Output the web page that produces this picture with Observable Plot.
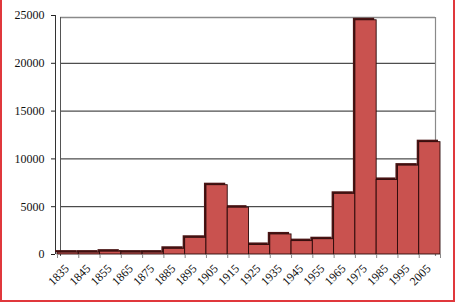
<!DOCTYPE html>
<html><head><meta charset="utf-8">
<script src="https://cdn.jsdelivr.net/npm/d3@7"></script>
<script src="https://cdn.jsdelivr.net/npm/@observablehq/plot@0.6"></script>
<style>
html,body{margin:0;padding:0;background:#fff;}
#wrap{position:relative;width:455px;height:302px;overflow:hidden;}
#frame{position:absolute;left:0;top:-4px;height:306px;width:455px;border:2px solid #e0383c;pointer-events:none;box-sizing:border-box;}
svg text{font-family:"Liberation Serif","Times New Roman",serif !important;}
</style>
</head><body>
<div id="wrap"><div id="frame"></div></div>
<script>
const years = [1835,1845,1855,1865,1875,1885,1895,1905,1915,1925,1935,1945,1955,1965,1975,1985,1995,2005];
const counts = [200,200,300,200,200,600,1750,7250,4900,1000,2100,1400,1600,6350,24500,7800,9300,11750];
const yTicks = [0,5000,10000,15000,20000,25000];
const binEdges = [1830,1840,1850,1860,1870,1880,1890,1900,1910,1920,1930,1940,1950,1960,1970,1980,1990,2000,2010];

const data = years.map((y,i) => ({year: y, label: String(y), x1: y - 5, x2: y + 5, count: counts[i]}));
const font = "'Liberation Serif', 'Times New Roman', serif";

const chart = Plot.plot({
  width: 455,
  height: 302,
  marginLeft: 57,
  marginRight: 15,
  marginTop: 15,
  marginBottom: 48,
  style: {fontFamily: font, fontSize: "12px", color: "#111", background: "transparent", overflow: "visible"},
  x: {domain: [1830, 2010], axis: null},
  y: {domain: [0, 25000], axis: null},
  marks: [
    Plot.ruleY(yTicks.slice(1, -1), {x1: 1830, x2: 2010, stroke: "#222", strokeWidth: 1, insetLeft: 3, insetRight: 5}),
    Plot.ruleY([25000], {x1: 1830, x2: 2010, stroke: "#8a8a8a", strokeWidth: 1.6, insetLeft: 3, insetRight: 5, dy: 2}),
    Plot.ruleX([2010], {y1: 0, y2: 25000, stroke: "#8a8a8a", strokeWidth: 1.2, dx: -5, dy: 2}),
    Plot.ruleX([1830], {y1: 0, y2: 25000, stroke: "#555", strokeWidth: 1, dx: 3, dy: 2}),
    Plot.ruleX([1830], {y1: 0, y2: 25000, stroke: "#333", strokeWidth: 1, dx: -2}),
    Plot.rectY(data, {x1: "x1", x2: "x2", y: "count", fill: "#4a1414", dx: -2, dy: -2}),
    Plot.rectY(data, {x1: "x1", x2: "x2", y: "count", fill: "#c9524f", stroke: "#2a0a0a", strokeWidth: 0.9}),
    Plot.axisY({ticks: yTicks, tickSize: 4, tickPadding: 7, tickFormat: d => String(d), label: null, stroke: "#222", dx: -2, fontSize: 12}),
    Plot.axisX({ticks: binEdges, tickSize: 4, tickFormat: () => "", label: null, stroke: "#888"}),
    Plot.text(data, {x: "year", y: 0, text: "label", rotate: -45, textAnchor: "end", lineAnchor: "middle", fontSize: 12, fill: "#111", dx: -1, dy: 12})
  ]
});
document.getElementById("wrap").prepend(chart);
</script>
</body></html>
